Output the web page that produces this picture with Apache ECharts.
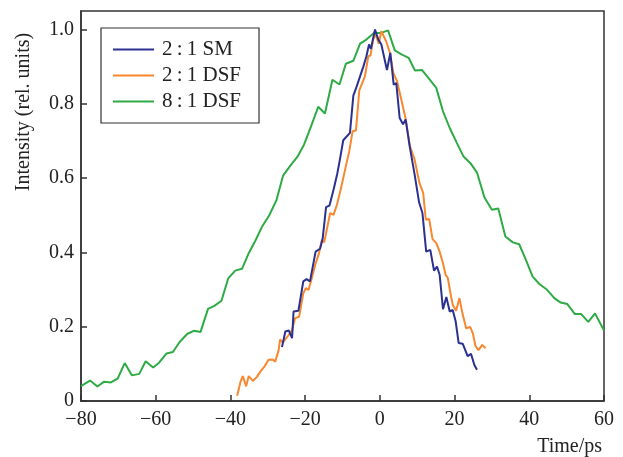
<!DOCTYPE html>
<html>
<head>
<meta charset="utf-8">
<script src="https://cdn.jsdelivr.net/npm/echarts@6/dist/echarts.min.js"></script>
<style>
  html, body { margin: 0; padding: 0; background: #fff; }
  #chart { width: 623px; height: 457px; }
</style>
</head>
<body>
<div id="chart"></div>
<script>
// 8:1 DSF
var greenT = [-80.0, -77.6, -75.6, -73.8, -72.0, -70.2, -68.3, -66.4, -64.4, -62.7, -60.7, -59.1, -57.1, -55.4, -53.6, -51.5, -49.8, -48.0, -46.0, -44.3, -42.4, -40.6, -38.7, -36.9, -35.1, -33.3, -31.5, -29.6, -27.7, -25.9, -24.0, -22.1, -20.3, -18.4, -16.5, -14.7, -12.7, -10.8, -9.1, -7.1, -5.3, -3.6, -1.6, 0.4, 2.2, 4.0, 5.8, 7.7, 9.4, 11.3, 13.2, 15.1, 16.9, 18.7, 20.6, 22.4, 24.2, 26.0, 28.0, 30.0, 31.7, 33.6, 35.6, 37.3, 39.1, 40.9, 42.7, 44.6, 46.7, 48.4, 50.2, 52.2, 53.9, 55.8, 57.6, 60.0];
var greenV = [0.040, 0.055, 0.039, 0.052, 0.050, 0.060, 0.102, 0.069, 0.073, 0.107, 0.090, 0.103, 0.128, 0.132, 0.159, 0.181, 0.189, 0.186, 0.248, 0.256, 0.270, 0.330, 0.351, 0.356, 0.398, 0.432, 0.470, 0.500, 0.540, 0.607, 0.633, 0.657, 0.690, 0.740, 0.792, 0.774, 0.865, 0.852, 0.908, 0.916, 0.962, 0.973, 0.991, 0.991, 0.998, 0.944, 0.933, 0.924, 0.890, 0.891, 0.867, 0.843, 0.780, 0.735, 0.695, 0.658, 0.641, 0.615, 0.548, 0.515, 0.518, 0.443, 0.427, 0.422, 0.380, 0.335, 0.315, 0.301, 0.277, 0.265, 0.261, 0.234, 0.234, 0.213, 0.236, 0.190];

// 2:1 SM
var blueT = [-26.2, -25.3, -24.4, -23.5, -23.1, -21.8, -20.5, -19.6, -18.7, -17.2, -16.0, -15.3, -14.4, -13.5, -12.4, -11.4, -10.7, -9.8, -8.0, -7.1, -6.2, -4.4, -3.6, -2.9, -2.4, -1.3, -0.4, 0.4, 1.9, 2.8, 3.7, 4.4, 5.3, 6.2, 6.9, 8.0, 9.3, 10.5, 11.4, 12.4, 13.5, 14.5, 15.3, 16.0, 16.9, 17.8, 18.7, 19.5, 20.3, 21.1, 22.2, 23.5, 24.4, 25.3, 26.0];
var blueV = [0.145, 0.187, 0.190, 0.169, 0.241, 0.243, 0.322, 0.328, 0.322, 0.402, 0.410, 0.438, 0.522, 0.526, 0.569, 0.612, 0.650, 0.702, 0.722, 0.822, 0.847, 0.901, 0.928, 0.960, 0.948, 1.000, 0.973, 0.960, 0.891, 0.937, 0.852, 0.856, 0.762, 0.745, 0.758, 0.685, 0.610, 0.535, 0.506, 0.402, 0.407, 0.351, 0.362, 0.340, 0.247, 0.280, 0.241, 0.245, 0.214, 0.156, 0.154, 0.121, 0.127, 0.097, 0.084];

// 2:1 DSF
var orangeT = [-38.2, -37.3, -36.7, -35.8, -35.1, -34.0, -32.9, -32.0, -30.8, -29.8, -28.7, -28.0, -27.1, -26.7, -26.0, -24.6, -23.5, -22.7, -21.6, -20.5, -19.8, -19.1, -18.2, -17.3, -16.4, -15.5, -14.9, -13.3, -12.4, -11.5, -10.5, -9.3, -8.2, -7.3, -6.4, -5.5, -4.0, -3.1, -2.5, -1.8, -1.1, -0.3, 0.4, 1.7, 2.7, 3.6, 4.6, 5.8, 6.9, 8.0, 9.3, 10.6, 11.6, 12.3, 13.2, 14.1, 15.1, 16.0, 16.9, 17.6, 18.2, 18.9, 19.5, 20.4, 21.3, 22.1, 23.1, 24.2, 24.9, 25.6, 26.4, 27.4, 28.3];
var orangeV = [0.014, 0.052, 0.067, 0.040, 0.067, 0.054, 0.065, 0.079, 0.094, 0.111, 0.112, 0.106, 0.137, 0.166, 0.157, 0.175, 0.191, 0.223, 0.227, 0.290, 0.304, 0.299, 0.331, 0.367, 0.394, 0.434, 0.427, 0.506, 0.501, 0.528, 0.569, 0.623, 0.672, 0.726, 0.728, 0.836, 0.874, 0.928, 0.930, 0.973, 0.987, 0.962, 0.996, 0.968, 0.937, 0.883, 0.861, 0.809, 0.760, 0.688, 0.650, 0.587, 0.560, 0.488, 0.490, 0.436, 0.425, 0.402, 0.371, 0.340, 0.331, 0.290, 0.259, 0.243, 0.277, 0.236, 0.196, 0.199, 0.182, 0.148, 0.137, 0.151, 0.142];

var seriesNames = ['2\u2009:\u20091 SM', '2\u2009:\u20091 DSF', '8\u2009:\u20091 DSF'];
var colors = ['#2b3190', '#f7882f', '#2eab45'];

function pairs(t, v) {
    return t.map(function (x, i) { return [x, v[i]]; });
}

var font = 'Liberation Serif';
var axisColor = '#333';

var chart = echarts.init(document.getElementById('chart'));
var option = {
    animation: false,
    color: colors,
    grid: {
        left: 81, right: 19, top: 11, bottom: 56,
        show: true, borderColor: axisColor, borderWidth: 1.5
    },
    legend: {
        data: seriesNames,
        orient: 'vertical',
        left: 101, top: 28,
        padding: [11, 18, 11, 12],
        itemGap: 5,
        itemWidth: 41, itemHeight: 2,
        icon: 'rect',
        borderColor: axisColor, borderWidth: 1.2,
        textStyle: { fontFamily: font, fontSize: 21, color: '#222', padding: [0, 0, 0, 3] }
    },
    xAxis: {
        type: 'value',
        min: -80, max: 60, interval: 20,
        name: 'Time/ps',
        nameLocation: 'end',
        nameGap: -2,
        nameTextStyle: { fontFamily: font, fontSize: 20, color: '#222', align: 'right', verticalAlign: 'top', padding: [36, 0, 0, 0] },
        axisLine: { onZero: false, lineStyle: { color: axisColor, width: 1.5 } },
        axisTick: { inside: true, length: 6, lineStyle: { color: axisColor, width: 1.5 } },
        splitLine: { show: false },
        axisLabel: {
            fontFamily: font, fontSize: 20, color: '#222', margin: 9,
            formatter: function (v) { return v < 0 ? '\u2212' + Math.abs(v) : String(v); }
        }
    },
    yAxis: {
        type: 'value',
        min: 0, max: 1.05, interval: 0.2,
        axisLine: { onZero: false, lineStyle: { color: axisColor, width: 1.5 } },
        axisTick: { inside: true, length: 6, lineStyle: { color: axisColor, width: 1.5 } },
        splitLine: { show: false },
        axisLabel: {
            fontFamily: font, fontSize: 20, color: '#222', margin: 7,
            showMaxLabel: false,
            padding: [5, 0, 0, 0],
            formatter: function (v) {
                if (v === 0) return '0';
                if (Math.abs(v * 5 - Math.round(v * 5)) > 1e-6) return '';
                return v.toFixed(1);
            }
        }
    },
    graphic: [{
        type: 'text',
        x: 24, y: 112,
        rotation: Math.PI / 2,
        style: {
            text: 'Intensity (rel. units)',
            fontFamily: font, fontSize: 20, fill: '#222',
            textAlign: 'center', textVerticalAlign: 'middle'
        }
    }],
    series: [
        { name: seriesNames[0], type: 'line', data: pairs(blueT, blueV), showSymbol: false, lineStyle: { width: 2 }, z: 4 },
        { name: seriesNames[1], type: 'line', data: pairs(orangeT, orangeV), showSymbol: false, lineStyle: { width: 2 }, z: 3 },
        { name: seriesNames[2], type: 'line', data: pairs(greenT, greenV), showSymbol: false, lineStyle: { width: 2 }, z: 2 }
    ]
};
chart.setOption(option);
</script>
</body>
</html>
